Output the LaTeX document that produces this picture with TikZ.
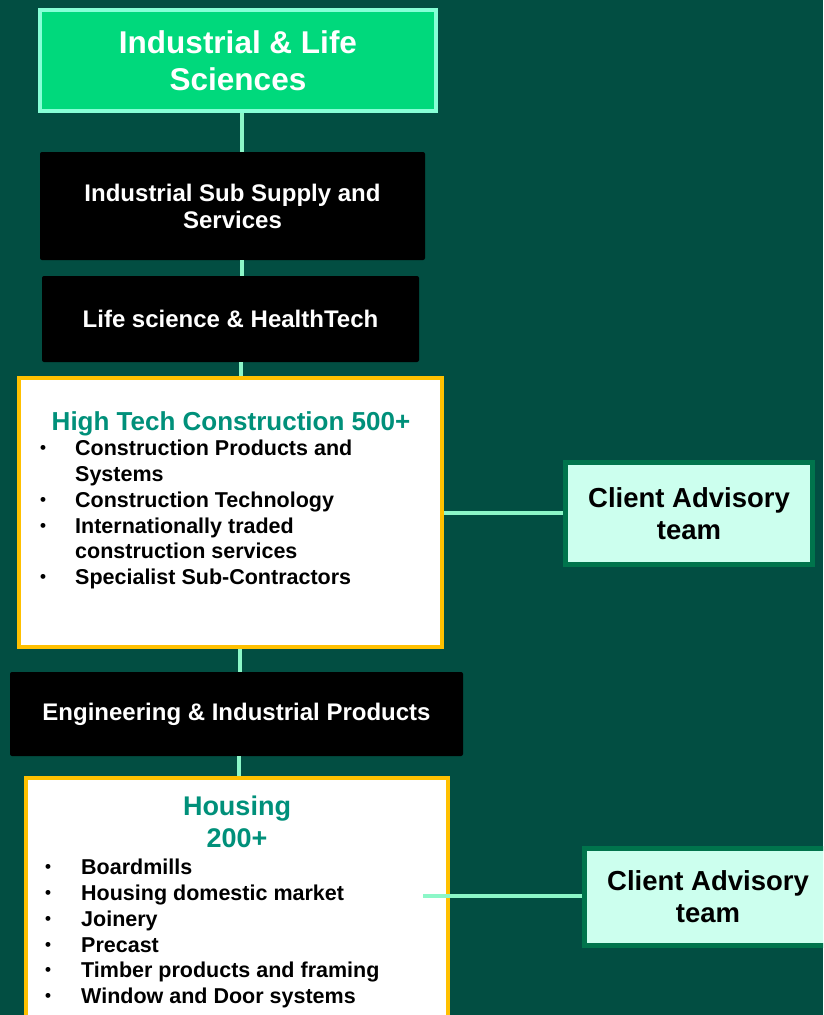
\documentclass[tikz,border=0pt]{standalone}
\usepackage{fontspec}
\setmainfont{Liberation Sans}
\usetikzlibrary{positioning}
\definecolor{bgteal}{HTML}{024E42}
\definecolor{leafgreen}{HTML}{00D97C}
\definecolor{mint}{HTML}{8CF7C8}
\definecolor{mintedge}{HTML}{86FFD6}
\definecolor{titleteal}{HTML}{00907A}
\definecolor{amber}{HTML}{FFC000}
\definecolor{paleteal}{HTML}{CCFFEE}
\definecolor{advedge}{HTML}{00744C}
\newcommand{\dotmark}{\raisebox{2pt}{\fontsize{17}{17}\selectfont\textbullet}}

\begin{document}
\begin{tikzpicture}[x=1pt, y=-1pt,
  headbox/.style={rectangle, fill=leafgreen, draw=mintedge, line width=4pt, text=white, align=center, inner sep=0pt, font=\bfseries\fontsize{31.5}{37}\selectfont},
  sectorbox/.style={rectangle, fill=black, rounded corners=2pt, text=white, align=center, inner sep=0pt, font=\bfseries\fontsize{24}{27}\selectfont},
  clusterbox/.style={rectangle, fill=white, draw=amber, line width=4pt, inner sep=0pt},
  advisorbox/.style={rectangle, fill=paleteal, draw=advedge, line width=5pt, align=center, inner sep=0pt, font=\bfseries\fontsize{27.5}{32}\selectfont},
  clustertitle/.style={text=titleteal, inner sep=0pt, font=\bfseries\fontsize{26}{32}\selectfont},
  clusterlist/.style={inner sep=0pt, anchor=base west, font=\bfseries\fontsize{21.5}{25.8}\selectfont},
  link/.style={draw=mint, line width=4pt}]
  \fill[bgteal] (0,0) rectangle (823,1015);
  \useasboundingbox (0,0) rectangle (823,1015);
  \clip (0,0) rectangle (823,1015);

  \node (top) [headbox, minimum width=396pt, minimum height=101pt] at (238,60.5) {Industrial \& Life\\Sciences};
  \node (sub) [sectorbox, minimum width=385pt, minimum height=108pt] at (232.5,206) {Industrial Sub Supply and\\Services};
  \node (life) [sectorbox, minimum width=377pt, minimum height=86pt] at (230.5,319) {Life science \& HealthTech};
  \node (hitech) [clusterbox, minimum width=423pt, minimum height=269pt] at (230.5,512.5) {};
  \node (eng) [sectorbox, minimum width=453pt, minimum height=84pt] at (236.5,714) {Engineering \& Industrial Products};
  \node (hsg) [clusterbox, minimum width=422pt, minimum height=255pt] at (237,905.5) {};

  \node (adv1) [advisorbox, minimum width=247pt, minimum height=102pt] at (689,513.5) {Client Advisory\\team};
  \node (adv2) [advisorbox, minimum width=247pt, minimum height=97pt] at (708,897) {Client Advisory\\team};

  \node (hitechttl) [clustertitle, anchor=base] at (231,430) {High Tech Construction 500+};
  \node (hitechlist) [clusterlist] at (40,455.7) {\begin{tabular}[t]{@{}p{35pt}@{}l@{}}
    \dotmark & Construction Products and\\
             & Systems\\
    \dotmark & Construction Technology\\
    \dotmark & Internationally traded\\
             & construction services\\
    \dotmark & Specialist Sub-Contractors
  \end{tabular}};

  \node (hsgttl) [clustertitle, anchor=base, font=\bfseries\fontsize{27}{32}\selectfont] at (237,815.7) {\begin{tabular}[t]{@{}c@{}}Housing\\200+\end{tabular}};
  \node (hsglist) [clusterlist] at (45,874.7) {\begin{tabular}[t]{@{}p{36pt}@{}l@{}}
    \dotmark & Boardmills\\
    \dotmark & Housing domestic market\\
    \dotmark & Joinery\\
    \dotmark & Precast\\
    \dotmark & Timber products and framing\\
    \dotmark & Window and Door systems
  \end{tabular}};

  \coordinate (hsgjoin) at (423,896);

  \path [link]
  (top.south -| 242,0) edge (sub.north -| 242,0)
  (sub.south -| 242,0) edge (life.north -| 242,0)
  (life.south -| 241,0) edge (hitech.north -| 241,0)
  (hitech.south -| 240,0) edge (eng.north -| 240,0)
  (eng.south -| 239,0) edge (hsg.north -| 239,0)
  (hitech.east) edge (hitech.east -| adv1.west)
  (hsgjoin) edge (hsgjoin -| adv2.west);
\end{tikzpicture}
\end{document}
